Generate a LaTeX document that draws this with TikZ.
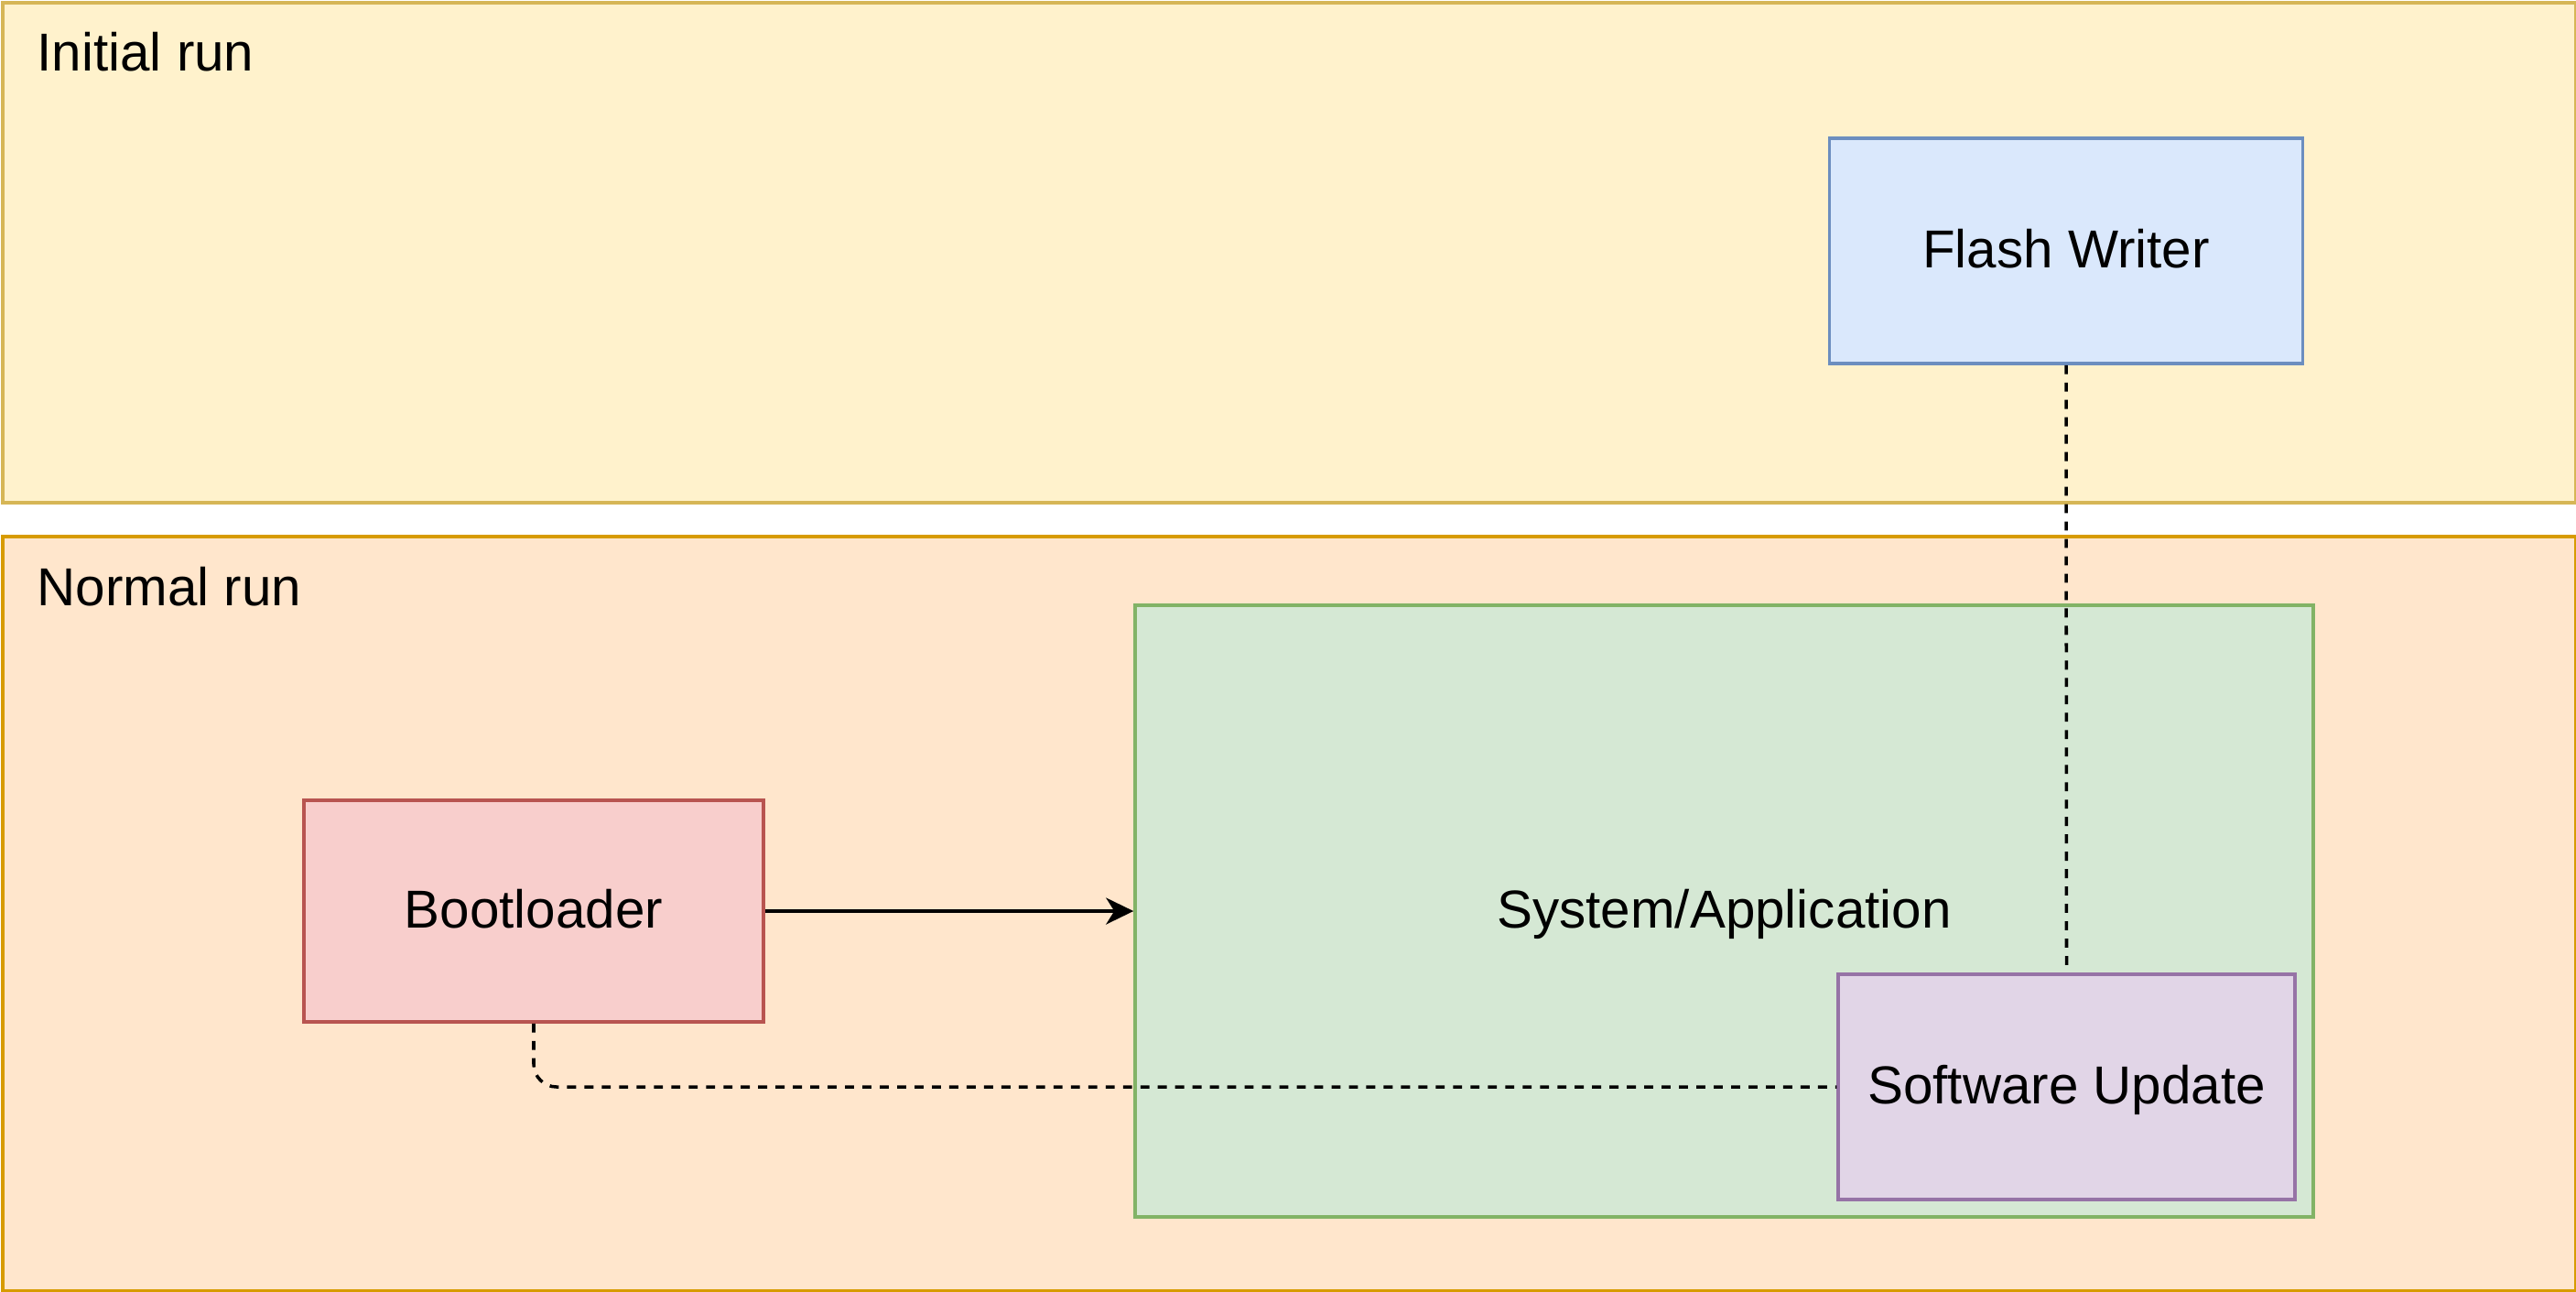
\documentclass[tikz,border=0pt]{standalone}
\usepackage{fontspec}
\setmainfont{Liberation Sans}
\usetikzlibrary{arrows.meta,positioning}
\definecolor{InitBG}{HTML}{FFF2CC}
\definecolor{InitFrame}{HTML}{D6B656}
\definecolor{NormBG}{HTML}{FFE6CC}
\definecolor{NormFrame}{HTML}{D79B00}
\definecolor{FlashBG}{HTML}{DAE8FC}
\definecolor{FlashFrame}{HTML}{6C8EBF}
\definecolor{BootBG}{HTML}{F8CECC}
\definecolor{BootFrame}{HTML}{B85450}
\definecolor{AppBG}{HTML}{D5E8D4}
\definecolor{AppFrame}{HTML}{82B366}
\definecolor{UpdBG}{HTML}{E1D5E7}
\definecolor{UpdFrame}{HTML}{9673A6}
\newcommand{\lblfont}{\fontsize{16.6pt}{20pt}\selectfont}

\begin{document}
\begin{tikzpicture}[
  box/.style={draw,line width=1pt,inner sep=0pt,font=\lblfont,
    text height=12pt,text depth=1.5pt},
  lane/.style={box,anchor=north west,minimum width=28.11cm},
  dashline/.style={line width=1pt,dash pattern=on 2.8pt off 2.6pt},
]
  \useasboundingbox (0,0) rectangle (28.14,-14.10);
  % --- lanes ---
  \node[lane,fill=InitBG,draw=InitFrame,minimum height=5.46cm] (init) at (0.01,-0.01) {};
  \node[lane,fill=NormBG,draw=NormFrame,minimum height=8.24cm] (norm) at (0.01,-5.84) {};
  \node[right,inner sep=0pt,font=\lblfont] (initlbl) at (0.40,-0.57) {Initial run};
  \node[right,inner sep=0pt,font=\lblfont] (normlbl) at (0.40,-6.41) {Normal run};

  % --- blocks ---
  \node[box,fill=FlashBG,draw=FlashFrame,minimum width=5.17cm,minimum height=2.46cm]
    (flash) at (22.57,-2.74) {Flash Writer};
  \node[box,fill=AppBG,draw=AppFrame,minimum width=12.87cm,minimum height=6.68cm]
    (app) at (18.835,-9.95) {System/Application};
  \node[box,fill=BootBG,draw=BootFrame,minimum width=5.02cm,minimum height=2.42cm]
    (boot) at (5.83,-9.95) {Bootloader};
  \node[box,fill=UpdBG,draw=UpdFrame,minimum width=4.99cm,minimum height=2.46cm]
    (update) at (22.575,-11.87) {Software Update};

  % --- connectors ---
  \draw[line width=1pt,-{Stealth[length=0.3cm,width=0.29cm,inset=0.09cm]}]
    (boot.east) -- (app.west);
  \draw[dashline,shorten >=2pt] (flash.south) -- (update.north);
  \draw[dashline,rounded corners=0.25cm] (boot.south) |- (update.west);
\end{tikzpicture}
\end{document}
